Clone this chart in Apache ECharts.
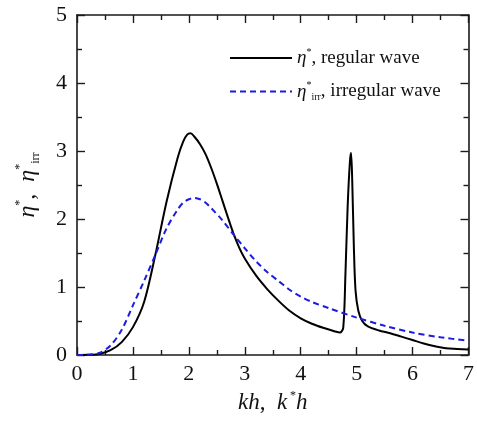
<!DOCTYPE html>
<html>
<head>
<meta charset="utf-8">
<script src="https://cdn.jsdelivr.net/npm/echarts@6/dist/echarts.min.js"></script>
<style>html,body{margin:0;padding:0;background:#fff}#c{width:477px;height:421px}</style>
</head>
<body>
<div id="c"></div>
<script>
// Regular wave (eta*) vs kh
const regX = [0,0.2,0.4,0.6,0.8,1.0,1.2,1.4,1.6,1.8,1.9,1.97,2.03,2.1,2.2,2.3,2.4,2.5,2.6,2.7,2.8,2.9,3.0,3.2,3.4,3.6,3.8,4.0,4.2,4.4,4.6,4.7,4.76,4.80,4.84,4.88,4.90,4.92,4.95,4.98,5.03,5.1,5.2,5.4,5.6,5.8,6.0,6.2,6.4,6.6,6.8,7.0];
const regY = [0,0.002,0.015,0.07,0.19,0.41,0.78,1.47,2.25,2.90,3.14,3.24,3.26,3.21,3.10,2.95,2.75,2.52,2.27,2.02,1.78,1.58,1.42,1.17,0.97,0.80,0.65,0.54,0.46,0.40,0.35,0.33,0.40,1.2,2.2,2.85,2.97,2.6,1.6,0.95,0.65,0.50,0.42,0.36,0.32,0.27,0.22,0.17,0.13,0.10,0.09,0.08];
// Irregular wave (eta*_irr) vs k*h
const irrX = [0,0.2,0.4,0.6,0.8,1.0,1.2,1.4,1.6,1.8,1.9,2.0,2.1,2.2,2.3,2.4,2.6,2.8,3.0,3.2,3.4,3.6,3.8,4.0,4.2,4.5,5.0,5.5,6.0,6.5,7.0];
const irrY = [0,0.005,0.03,0.14,0.37,0.73,1.09,1.47,1.86,2.14,2.24,2.29,2.31,2.29,2.24,2.16,1.98,1.77,1.57,1.38,1.22,1.09,0.96,0.86,0.78,0.69,0.55,0.43,0.33,0.26,0.21];
const xTicks = ['0','1','2','3','4','5','6','7'];
const yTicks = ['0','1','2','3','4','5'];

const FONT = '"Liberation Serif", "DejaVu Serif", serif';
const AX = '#1a1a1a';
const chart = echarts.init(document.getElementById('c'), null, {renderer: 'canvas'});
const zip = (a, b) => a.map((v, i) => [v, b[i]]);

const baseAxis = {
  type: 'value',
  axisLine: {show: true, onZero: false, lineStyle: {color: AX, width: 1.6}},
  axisTick: {show: true, inside: true, length: 8, lineStyle: {color: AX, width: 1.4}},
  minorTick: {show: true, splitNumber: 2, length: 5, lineStyle: {color: AX, width: 1.4}},
  splitLine: {show: false},
  minorSplitLine: {show: false}
};
function mkRich(fs, ss, lh) {
  return {
    i: {fontFamily: FONT, fontStyle: 'italic', fontSize: fs, color: '#111', lineHeight: lh},
    t: {fontFamily: FONT, fontSize: fs, color: '#111', lineHeight: lh},
    sup: {fontFamily: FONT, fontSize: ss, color: '#111', verticalAlign: 'top', lineHeight: lh},
    sub: {fontFamily: FONT, fontSize: ss, color: '#111', verticalAlign: 'bottom', lineHeight: lh}
  };
}

chart.setOption({
  animation: false,
  backgroundColor: '#fff',
  grid: {left: 77, right: 4, top: 15, bottom: 66, containLabel: false},
  legend: {
    orient: 'vertical', left: 224, top: 42, itemGap: 13,
    itemWidth: 62, itemHeight: 14,
    data: ['reg', 'irr'],
    itemStyle: {opacity: 0},
    formatter: function (name) {
      return name === 'reg'
        ? '{i|η}{sup|*}{t|, regular wave}'
        : '{i|η}{sup|*}{sub|irr}{t|, irregular wave}';
    },
    textStyle: {rich: mkRich(19, 10, 22), fontFamily: FONT, fontSize: 19}
  },
  xAxis: [
    Object.assign({}, baseAxis, {
      position: 'bottom', min: 0, max: 7, interval: 1,
      axisLabel: {show: true, margin: 8, fontFamily: FONT, fontSize: 22, color: '#111',
        formatter: v => xTicks[Math.round(v)]},
      name: '{i|kh}{t|,  }{i|k}{sup| *}{i|h}', nameLocation: 'middle', nameGap: 32,
      nameTextStyle: {rich: mkRich(23, 12, 26)}
    }),
    Object.assign({}, baseAxis, {
      position: 'top', min: 0, max: 7, interval: 1, axisLabel: {show: false}
    })
  ],
  yAxis: [
    Object.assign({}, baseAxis, {
      position: 'left', min: 0, max: 5, interval: 1,
      axisLabel: {show: true, margin: 10, fontFamily: FONT, fontSize: 22, color: '#111',
        formatter: v => yTicks[Math.round(v)]},
      name: '{i|η}{sup|*}{t|,  }{i|η}{sup|*}{sub|irr}', nameLocation: 'middle', nameGap: 35, nameRotate: 90,
      nameTextStyle: {rich: mkRich(24, 12, 28)}
    }),
    Object.assign({}, baseAxis, {
      position: 'right', min: 0, max: 5, interval: 1, axisLabel: {show: false}
    })
  ],
  series: [
    {
      name: 'reg', type: 'line', xAxisIndex: 0, yAxisIndex: 0,
      data: zip(regX, regY), showSymbol: false, symbol: 'none', smooth: 0.3,
      lineStyle: {color: '#000', width: 2}, itemStyle: {color: '#000'}
    },
    {
      name: 'irr', type: 'line', xAxisIndex: 0, yAxisIndex: 0,
      data: zip(irrX, irrY), showSymbol: false, symbol: 'none', smooth: 0.3,
      lineStyle: {color: '#1c1ce0', width: 2, type: [6, 4]}, itemStyle: {color: '#1c1ce0'}
    }
  ]
});
</script>
</body>
</html>
